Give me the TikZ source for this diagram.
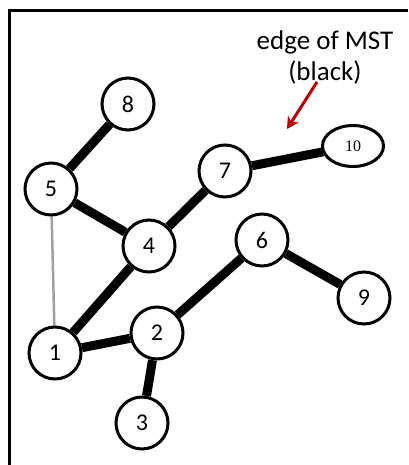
\documentclass[tikz,border=0pt]{standalone}
\usepackage{fontspec}
\setmainfont{Carlito}
\newfontfamily\serifnum{Liberation Serif}
\usetikzlibrary{arrows.meta,shapes.geometric,backgrounds}
\definecolor{mstred}{RGB}{192,0,0}
\definecolor{nongray}{RGB}{160,160,160}
\begin{document}
\begin{tikzpicture}[x=1pt,y=-1pt,
  vertex/.style={circle,draw=black,line width=3pt,fill=white,minimum size=52pt,inner sep=0pt,font=\fontsize{24}{26}\selectfont},
  ring/.style={draw=black,line width=3pt,fill=white},
  wide vertex/.style={ellipse,minimum width=62pt,minimum height=42pt,inner sep=0pt,font=\serifnum\fontsize{16}{18}\selectfont},
  mst/.style={line width=9pt,black},
  nonmst/.style={line width=2.5pt,nongray},
  frameline/.style={line width=3pt,black}]
\useasboundingbox (0,0) rectangle (408,465);
\coordinate (ftr) at (408,11);
\coordinate (ftl) at (9,11);
\coordinate (fbl) at (9,465);
\draw[frameline] (ftr) -- (ftl) -- (fbl);
\node[vertex] (n8) at (128,104) {8};
\node[vertex] (n5) at (51,189) {5};
\node[vertex] (n4) at (149,246) {4};
\node[vertex] (n7) at (225,171) {7};
\coordinate (c10) at (353,146);
\draw[ring] (c10) ellipse [x radius=30.5, y radius=20.5];
\node[wide vertex] (n10) at (c10) {10};
\node[vertex] (n6) at (262,240) {6};
\node[vertex] (n9) at (364,298) {9};
\node[vertex] (n1) at (55,353) {1};
\node[vertex] (n2) at (157,333) {2};
\node[vertex] (n3) at (142,423) {3};
\begin{scope}[on background layer]
\draw[nonmst] (n5) -- (n1);
\draw[mst] (n8) -- (n5);
\draw[mst] (n5) -- (n4);
\draw[mst] (n4) -- (n7);
\draw[mst] (n7) -- (n10);
\draw[mst] (n4) -- (n1);
\draw[mst] (n1) -- (n2);
\draw[mst] (n2) -- (n6);
\draw[mst] (n6) -- (n9);
\draw[mst] (n2) -- (n3);
\end{scope}
\node[font=\fontsize{27}{31}\selectfont,align=center,inner sep=0pt] (lbl) at (325,57) {edge of MST\\(black)};
\coordinate (arrs) at (317,82);
\coordinate (arre) at (287,129);
\draw[mstred,line width=3pt,-{Stealth[length=12pt,width=13pt]}] (arrs) -- (arre);
\end{tikzpicture}
\end{document}
